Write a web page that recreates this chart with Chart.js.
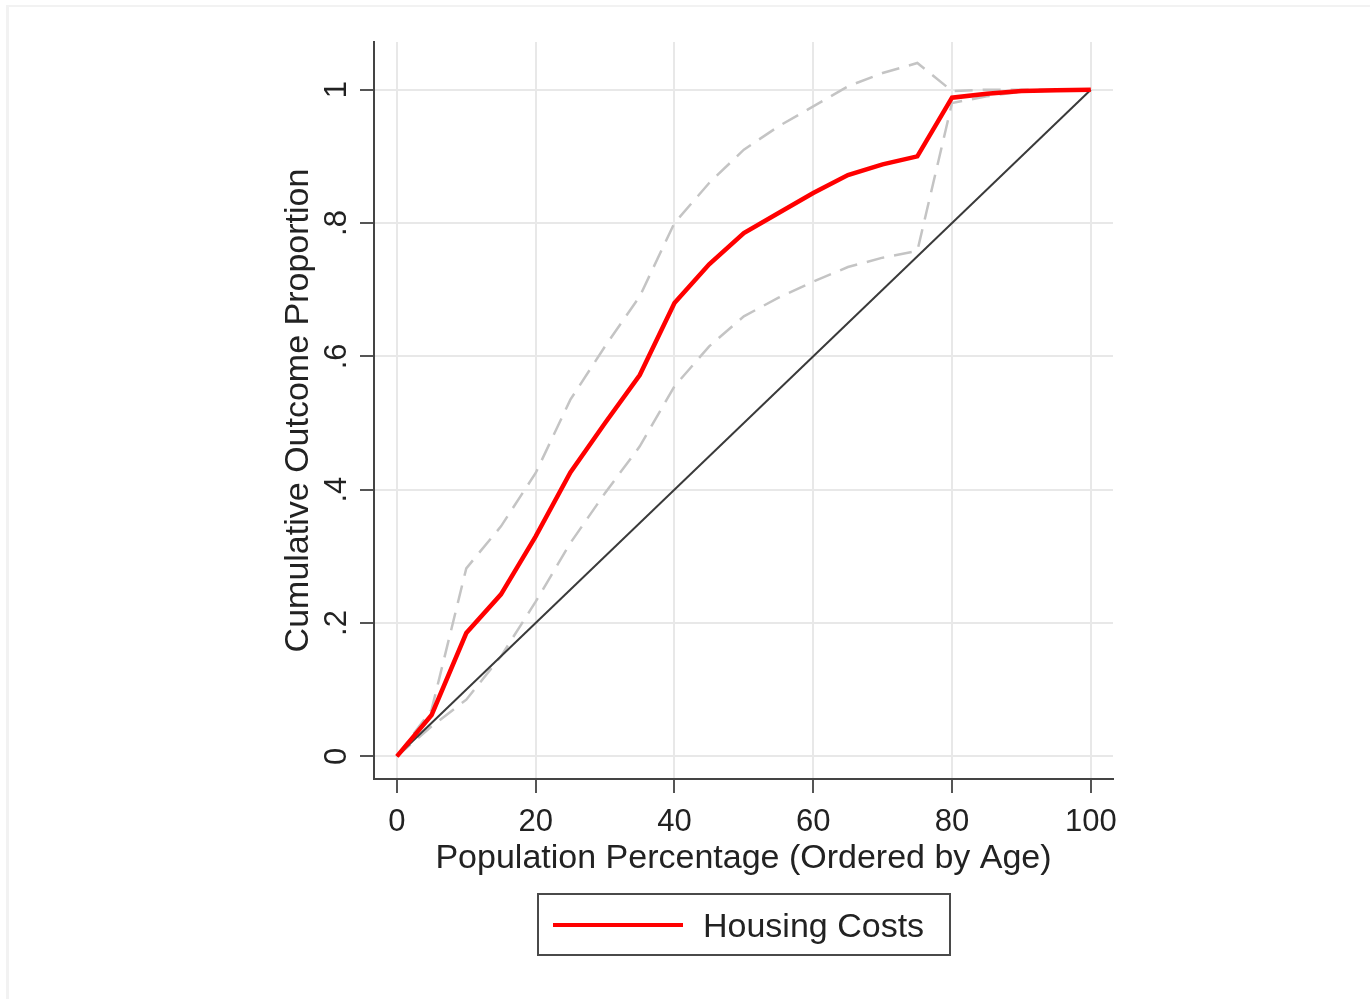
<!DOCTYPE html>
<html>
<head>
<meta charset="utf-8">
<script src="https://cdn.jsdelivr.net/npm/chart.js@4/dist/chart.umd.min.js"></script>
<style>
  body { margin: 0; background: #fff; font-family: Arial, "Liberation Sans", sans-serif; }
  #wrap { position: relative; width: 1370px; height: 999px; overflow: hidden; }
  #frame { position: absolute; left: 6px; top: 5px; right: 0; bottom: 0;
           border-top: 2px solid #f2f2f2; border-left: 3px solid #f2f2f2; }
  #legend { position: absolute; left: 537px; top: 893px; width: 410px; height: 59px;
            border: 2px solid #4a4a4a; box-sizing: content-box; }
  #legend .line { position: absolute; left: 14px; top: 28px; width: 130px; height: 4px; background: #ff0000; }
  #legend .txt { position: absolute; left: 164px; top: 11px; font-size: 34px; color: #222; line-height: 38px; }
</style>
</head>
<body>
<div id="wrap">
  <div id="frame"></div>
  <canvas id="lorenz"></canvas>
  <div id="legend"><span class="line"></span><span class="txt">Housing Costs</span></div>
</div>
<script>
// population share (x) and cumulative proportions
const popPct   = [0, 5, 10, 15, 20, 25, 30, 35, 40, 45, 50, 55, 60, 65, 70, 75, 80, 85, 90, 95, 100];
const housing  = [0, 0.062, 0.185, 0.243, 0.33, 0.426, 0.50, 0.572, 0.68, 0.738, 0.785, 0.815, 0.845, 0.872, 0.888, 0.90, 0.988, 0.994, 0.998, 0.999, 1];
const upperCI  = [0, 0.07, 0.282, 0.345, 0.425, 0.535, 0.615, 0.69, 0.80, 0.86, 0.91, 0.945, 0.975, 1.005, 1.025, 1.04, 0.998, 1.0, 1.0, 1.0, 1.0];
const lowerCI  = [0, 0.045, 0.085, 0.15, 0.232, 0.32, 0.395, 0.465, 0.555, 0.615, 0.66, 0.688, 0.712, 0.734, 0.748, 0.758, 0.98, 0.99, 0.997, 0.999, 1];
const equality = [0, 1];
const equalityX = [0, 100];

const xTicks = [0, 20, 40, 60, 80, 100];
const yTicks = [0, 0.2, 0.4, 0.6, 0.8, 1];
const yTickLabels = ['0', '.2', '.4', '.6', '.8', '1'];

const FONT = 'Arial, "Liberation Sans", sans-serif';
const pts = (xs, ys) => xs.map((x, i) => ({ x, y: ys[i] }));

// y tick labels are rotated like the original, drawn next to the axis
const rotatedYLabels = {
    id: 'rotatedYLabels',
    afterDraw(chart) {
        const ctx = chart.ctx;
        const y = chart.scales.y;
        ctx.save();
        ctx.font = '31px ' + FONT;
        ctx.fillStyle = '#222';
        ctx.textAlign = 'center';
        ctx.textBaseline = 'middle';
        yTicks.forEach((v, i) => {
            ctx.save();
            ctx.translate(337, y.getPixelForValue(v));
            ctx.rotate(-Math.PI / 2);
            ctx.fillText(yTickLabels[i], 0, 0);
            ctx.restore();
        });
        ctx.restore();
    }
};

const gridStyle = {
    color: '#e8e8e8',
    lineWidth: 2,
    tickColor: '#555',
    tickLength: 14,
    tickWidth: 2
};

new Chart(document.getElementById('lorenz'), {
    type: 'line',
    data: {
        datasets: [
            { label: 'Housing Costs', data: pts(popPct, housing), borderColor: '#ff0000', borderWidth: 4.5 },
            { label: 'Equality', data: pts(equalityX, equality), borderColor: '#3a3a3a', borderWidth: 2 },
            { label: 'Upper', data: pts(popPct, upperCI), borderColor: '#c4c4c4', borderWidth: 2.5, borderDash: [18, 10] },
            { label: 'Lower', data: pts(popPct, lowerCI), borderColor: '#c4c4c4', borderWidth: 2.5, borderDash: [18, 10] }
        ]
    },
    options: {
        responsive: true,
        maintainAspectRatio: false,
        animation: false,
        elements: { point: { radius: 0 }, line: { tension: 0 } },
        layout: { padding: { left: 270, right: 257, top: 42, bottom: 120 } },
        plugins: { legend: { display: false }, tooltip: { enabled: false } },
        scales: {
            x: {
                type: 'linear',
                min: -3.3,
                max: 103.2,
                afterBuildTicks: s => { s.ticks = xTicks.map(v => ({ value: v })); },
                afterFit: s => { s.height = 100; },
                grid: gridStyle,
                border: { display: true, color: '#444', width: 2 },
                ticks: { color: '#222', font: { size: 31, family: FONT }, padding: 11, maxRotation: 0 },
                title: { display: true, text: 'Population Percentage (Ordered by Age)', color: '#222',
                         font: { size: 34, family: FONT }, padding: { top: 0, bottom: 0 } }
            },
            y: {
                type: 'linear',
                min: -0.034,
                max: 1.0715,
                afterBuildTicks: s => { s.ticks = yTicks.map(v => ({ value: v })); },
                afterFit: s => { s.width = 104; },
                grid: gridStyle,
                border: { display: true, color: '#444', width: 2 },
                ticks: { display: false },
                title: { display: true, text: 'Cumulative Outcome Proportion', color: '#222',
                         font: { size: 34, family: FONT }, padding: { top: 8, bottom: 0 } }
            }
        }
    },
    plugins: [rotatedYLabels]
});
</script>
</body>
</html>
